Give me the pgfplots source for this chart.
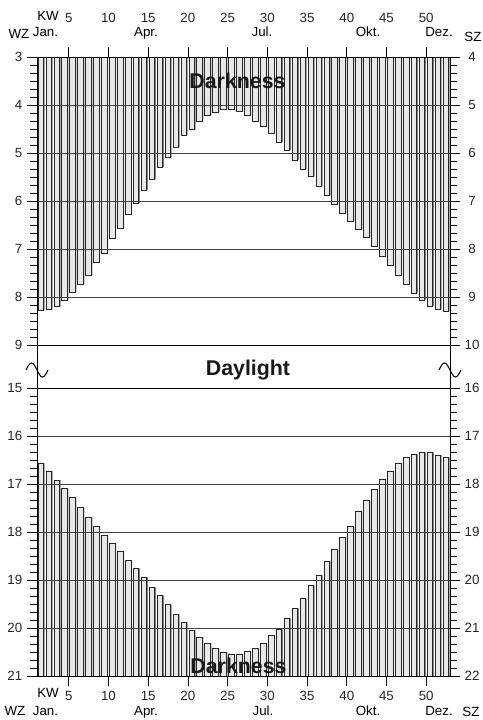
\documentclass[border=0pt]{standalone}
\usepackage{pgfplots}
\pgfplotsset{compat=1.18}
\usepackage{pgfplotstable}
\usepackage{fontspec}
\setmainfont{Liberation Sans}

% sunrise (WZ, hours) per calendar week
\pgfplotstableread{
w v
1 8.28
2 8.26
3 8.20
4 8.07
5 7.91
6 7.73
7 7.54
8 7.28
9 7.09
10 6.77
11 6.56
12 6.28
13 6.05
14 5.77
15 5.55
16 5.29
17 5.08
18 4.875
19 4.625
20 4.50
21 4.33
22 4.22
23 4.15
24 4.10
25 4.09
26 4.13
27 4.21
28 4.33
29 4.44
30 4.60
31 4.77
32 4.94
33 5.15
34 5.33
35 5.49
36 5.70
37 5.89
38 6.07
39 6.26
40 6.42
41 6.59
42 6.76
43 6.94
44 7.15
45 7.35
46 7.54
47 7.73
48 7.92
49 8.07
50 8.19
51 8.25
52 8.29
}\sunrise

% sunset (WZ, hours) per calendar week; c = bar length below sunset (clipped at 21)
\pgfplotstableread{
w v c
1 16.57 10
2 16.73 10
3 16.92 10
4 17.09 10
5 17.28 10
6 17.49 10
7 17.69 10
8 17.89 10
9 18.07 10
10 18.24 10
11 18.40 10
12 18.59 10
13 18.76 10
14 18.94 10
15 19.15 10
16 19.32 10
17 19.51 10
18 19.71 10
19 19.88 10
20 20.05 10
21 20.19 10
22 20.32 10
23 20.42 10
24 20.51 10
25 20.54 10
26 20.54 10
27 20.48 10
28 20.42 10
29 20.32 10
30 20.16 10
31 20.03 10
32 19.79 10
33 19.59 10
34 19.38 10
35 19.12 10
36 18.90 10
37 18.61 10
38 18.36 10
39 18.11 10
40 17.88 10
41 17.56 10
42 17.35 10
43 17.11 10
44 16.90 10
45 16.74 10
46 16.57 10
47 16.45 10
48 16.38 10
49 16.34 10
50 16.34 10
51 16.40 10
52 16.44 10
}\sunset

\pgfplotsset{
  geom/.style={scale only axis, width=309.75pt, height=216pt,
    xmin=1, xmax=53, y dir=reverse},
  panel/.style={geom,
    tick align=outside,
    major tick length=7.5pt, minor tick length=5.25pt,
    tick style={black, line width=0.6pt},
    minor tick style={black, line width=0.5pt},
    axis line style={black, line width=0.7pt},
    /pgf/number format/assume math mode=true,
    tick label style={font=\fontsize{10}{12}\selectfont, text=black!85},
    minor y tick num=5,
    axis on top,
  },
  leftpanel/.style={panel,
    ytick pos=left, ymajorgrids,
    grid style={black!75, line width=0.6pt},
    xtick={5,10,...,50},
  },
  rightpanel/.style={panel,
    axis x line=none, axis y line*=right,
    yticklabel style={anchor=center, xshift=9pt},
  },
  shadowpanel/.style={geom, hide axis},
  barstyle/.style={fill=black!9, draw=black!85, line width=0.5pt, bar width=0.7, bar shift=0.47},
  shadowstyle/.style={fill=black!50, draw=none, bar width=0.78, bar shift=0.57},
}

\begin{document}
\begin{tikzpicture}
\useasboundingbox (0,0) rectangle (361.5pt,-540pt);

% ---------- top panel: sunrise ----------
\begin{axis}[shadowpanel, at={(27.75pt,-258.75pt)}, anchor=south west,
  ymin=3, ymax=9, ybar]
  \addplot[shadowstyle] table[x=w, y=v] {\sunrise};
\end{axis}
\begin{axis}[leftpanel, at={(27.75pt,-258.75pt)}, anchor=south west,
  ymin=3, ymax=9, ytick={3,...,9},
  xtick pos=right, xticklabel pos=right,
  xticklabel style={yshift=14.75pt},
  ybar]
  \addplot[barstyle] table[x=w, y=v] {\sunrise};
\end{axis}
\begin{axis}[rightpanel, at={(27.75pt,-258.75pt)}, anchor=south west,
  ymin=4, ymax=10, ytick={4,...,10}]
  \addplot[draw=none] coordinates {(1,4)};
\end{axis}

% ---------- bottom panel: sunset ----------
\begin{axis}[shadowpanel, at={(27.75pt,-507pt)}, anchor=south west,
  ymin=15, ymax=21, ybar stacked]
  \addplot[shadowstyle, fill=none] table[x=w, y=v] {\sunset};
  \addplot[shadowstyle] table[x=w, y=c] {\sunset};
\end{axis}
\begin{axis}[leftpanel, at={(27.75pt,-507pt)}, anchor=south west,
  ymin=15, ymax=21, ytick={15,...,21},
  xtick pos=left, xticklabel pos=left,
  xticklabel style={yshift=-0.5pt},
  ybar stacked]
  \addplot[barstyle, draw=none, fill=none] table[x=w, y=v] {\sunset};
  \addplot[barstyle] table[x=w, y=c] {\sunset};
\end{axis}
\begin{axis}[rightpanel, at={(27.75pt,-507pt)}, anchor=south west,
  ymin=16, ymax=22, ytick={16,...,22}]
  \addplot[draw=none] coordinates {(1,16)};
\end{axis}

% ---------- annotations (pixel grid) ----------
\begin{scope}[x=0.75pt, y=-0.75pt, font=\fontsize{10}{12}\selectfont]
  \draw[black, line width=0.7pt] (37,345) -- (37,388);
  \draw[black, line width=0.7pt] (450,345) -- (450,388);
  \draw[black, line width=0.8pt] (26,370) sin (31.5,363) cos (37,370) sin (42.5,377) cos (48,370);
  \draw[black, line width=0.8pt] (439,370) sin (444.5,363) cos (450,370) sin (455.5,377) cos (461,370);
  \node[font=\fontsize{16}{18}\selectfont\bfseries, anchor=base, text=black!90] at (237.5,89) {Darkness};
  \node[font=\fontsize{16}{18}\selectfont\bfseries, anchor=base, text=black!90] at (248,375) {Daylight};
  \node[font=\fontsize{16}{18}\selectfont\bfseries, anchor=base, text=black!90] at (238.5,673) {Darkness};
  % top labels
  \node[anchor=base] at (48,21) {KW};
  \node[anchor=base] at (19,39) {WZ};
  \node[anchor=base] at (473,42) {SZ};
  \node[anchor=base] at (45.5,37) {Jan.};
  \node[anchor=base] at (146,37) {Apr.};
  \node[anchor=base] at (262,37) {Jul.};
  \node[anchor=base] at (368,37) {Okt.};
  \node[anchor=base] at (439,37) {Dez.};
  % bottom labels
  \node[anchor=base] at (48,697) {KW};
  \node[anchor=base] at (15,715) {WZ};
  \node[anchor=base] at (471,716) {SZ};
  \node[anchor=base] at (45.5,715) {Jan.};
  \node[anchor=base] at (146,715) {Apr.};
  \node[anchor=base] at (263,715) {Jul.};
  \node[anchor=base] at (368,715) {Okt.};
  \node[anchor=base] at (439,715) {Dez.};
\end{scope}
\end{tikzpicture}
\end{document}
